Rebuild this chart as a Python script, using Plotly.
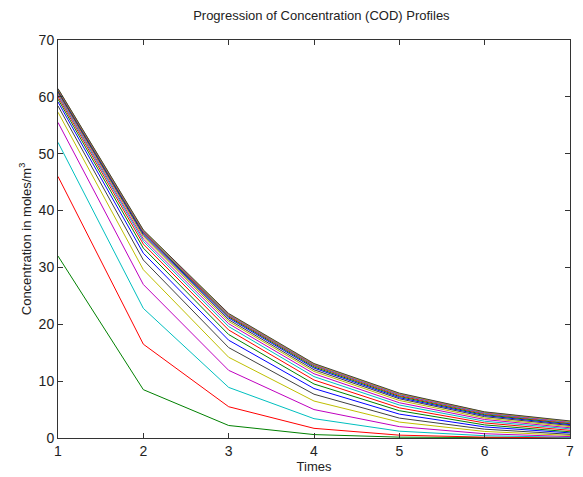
import plotly.graph_objects as go

times = [1, 2, 3, 4, 5, 6, 7]

# Concentration profiles (one list per curve), values at times 1..7
profiles = [
    [32.0, 8.5, 2.2, 0.6, 0.15, 0.05, 0.02],
    [46.0, 16.5, 5.5, 1.7, 0.5, 0.15, 0.05],
    [52.0, 22.8, 8.9, 3.4, 1.2, 0.4, 0.12],
    [55.5, 27.0, 11.9, 5.0, 2.0, 0.75, 0.25],
    [57.3, 29.6, 14.2, 6.5, 2.8, 1.15, 0.45],
    [58.4, 31.3, 15.9, 7.7, 3.5, 1.55, 0.65],
    [59.1, 32.5, 17.2, 8.7, 4.2, 1.95, 0.9],
    [59.6, 33.4, 18.2, 9.5, 4.8, 2.3, 1.1],
    [60.0, 34.1, 19.0, 10.2, 5.3, 2.65, 1.35],
    [60.3, 34.6, 19.6, 10.8, 5.8, 2.95, 1.6],
    [60.5, 35.0, 20.1, 11.3, 6.2, 3.25, 1.8],
    [60.7, 35.4, 20.5, 11.7, 6.6, 3.5, 2.0],
    [60.85, 35.7, 20.8, 12.0, 6.9, 3.75, 2.2],
    [61.0, 35.9, 21.1, 12.3, 7.1, 3.95, 2.35],
    [61.1, 36.1, 21.3, 12.5, 7.3, 4.1, 2.5],
    [61.2, 36.2, 21.45, 12.7, 7.45, 4.25, 2.6],
    [61.3, 36.3, 21.6, 12.8, 7.6, 4.35, 2.7],
    [61.35, 36.4, 21.7, 12.9, 7.7, 4.45, 2.8],
    [61.4, 36.5, 21.8, 13.0, 7.8, 4.55, 2.9],
    [61.45, 36.6, 21.9, 13.1, 7.9, 4.6, 3.0],
]

color_order = ["#008000", "#ff0000", "#00bfbf", "#bf00bf", "#bfbf00", "#404040", "#0000ff"]

x_ticks = [1, 2, 3, 4, 5, 6, 7]
y_ticks = [0, 10, 20, 30, 40, 50, 60, 70]

FONT = "Liberation Sans, Arial, sans-serif"

fig = go.Figure()
for i, prof in enumerate(profiles):
    fig.add_trace(go.Scatter(
        x=times, y=prof, mode="lines",
        line=dict(color=color_order[i % len(color_order)], width=1),
        showlegend=False, hoverinfo="skip",
    ))

axis_common = dict(
    showline=True, linecolor="#333333", linewidth=1, mirror="ticks",
    ticks="inside", ticklen=5, tickcolor="#333333",
    showgrid=False, zeroline=False, automargin=False,
    tickfont=dict(family=FONT, size=14, color="#222222"),
)

fig.update_layout(
    width=575, height=469,
    margin=dict(l=50, r=13, t=32, b=39),
    paper_bgcolor="white", plot_bgcolor="white",
    title=dict(text="Progression of Concentration (COD) Profiles",
               x=0.545, xanchor="center", y=0.985, yanchor="middle",
               font=dict(family=FONT, size=13, color="#222222")),
    xaxis=dict(range=[1, 7], tickvals=x_ticks,
               title=dict(text="Times", standoff=2,
                          font=dict(family=FONT, size=13, color="#222222")),
               **axis_common),
    yaxis=dict(range=[0, 70], tickvals=y_ticks,
               title=dict(text="Concentration in moles/m<sup>3</sup>", standoff=4,
                          font=dict(family=FONT, size=13, color="#222222")),
               **axis_common),
)

fig.write_html("out.html")
